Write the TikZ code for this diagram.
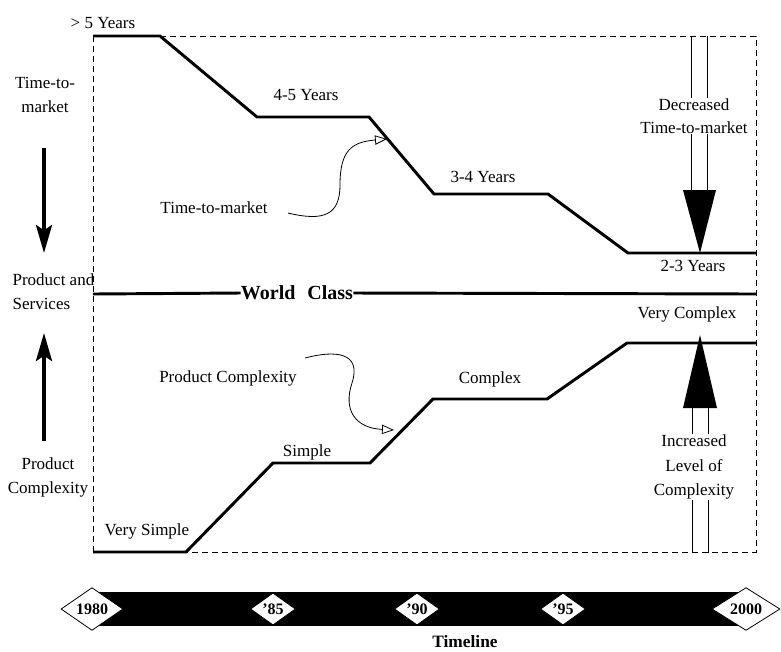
\documentclass[tikz,border=0pt]{standalone}
\usepackage{fontspec}
\setmainfont{Liberation Serif}
\usetikzlibrary{arrows.meta,shapes.geometric}

\begin{document}
\begin{tikzpicture}[x=0.75pt,y=-0.75pt,
  lbl/.style={font=\fontsize{12.75}{18}\selectfont, inner sep=1pt},
  stair/.style={line width=2.2pt, line join=miter},
  frame/.style={line width=0.7pt, dash pattern=on 4.5pt off 3pt},
  thinline/.style={line width=0.75pt},
  bigarrow/.style={line width=3pt, -{Stealth[length=21pt,width=12pt,inset=4pt]}},
  wavy/.style={line width=0.6pt, -{Triangle[open,length=9pt,width=7pt]}},
  yeartag/.style={shape=diamond, draw=black, line width=0.6pt, fill=white,
    inner sep=0pt, font=\bfseries\fontsize{12}{14}\selectfont},
  headtip/.style={fill=black}
]
\useasboundingbox (0,0) rectangle (781,651);

% dashed frame
\draw[frame] (160,36) -- (756,36) -- (756,552) -- (186,552);
\draw[frame] (93,36) -- (93,552);

% time-to-market staircase (descending)
\draw[stair] (93,36) -- (160,36) -- (257,117) -- (369,117) -- (434,194)
  -- (548,194) -- (628,253) -- (756,253);

% product complexity staircase (ascending)
\draw[stair] (93,552) -- (186,552) -- (273,463) -- (370,463) -- (433,399)
  -- (547,399) -- (627,343) -- (756,343);

% step labels
\node[lbl] (gt5)  at (103,23)  {> 5 Years};
\node[lbl] (y45)  at (306,95)  {4-5 Years};
\node[lbl] (y34)  at (483,177) {3-4 Years};
\node[lbl] (y23)  at (693,266) {2-3 Years};
\node[lbl] (vcx)  at (687,314) {Very Complex};
\node[lbl] (cx)   at (490,379) {Complex};
\node[lbl] (smp)  at (307,452) {Simple};
\node[lbl] (vsmp) at (147,531) {Very Simple};

% world class divider
\node[font=\bfseries\fontsize{15}{18}\selectfont, inner sep=0pt] (wc) at (297,293) {World\hspace{0.6em}Class};
\coordinate (wcl) at (93,294);
\coordinate (wcr) at (756,294);
\draw[line width=2.2pt] (wcl) -- (wc.west);
\draw[line width=2.2pt] (wc.east) -- (wcr);

% left-hand axis labels and arrows
\node[lbl, align=center] (ttmax) at (45,95) {Time-to-\\market};
\node[lbl, align=left, anchor=west] (ps) at (11,292) {Product and\\Services};
\node[lbl, align=center] (pcax) at (48,477) {Product\\Complexity};
\coordinate (dtop) at (44,148);
\coordinate (dbot) at (44,253);
\coordinate (ubot) at (44,441);
\coordinate (utop) at (44,333);
\draw[bigarrow] (dtop) -- (dbot);
\draw[bigarrow] (ubot) -- (utop);

% curved pointers
\node[lbl] (ttm) at (214,208) {Time-to-market};
\coordinate (ttmstart) at (288,213);
\coordinate (ttmtip) at (387,139);
\draw[wavy] (ttmstart) .. controls (325,222) and (340,214) .. (340,185)
  .. controls (340,150) and (352,142) .. (ttmtip);

\node[lbl] (pc) at (228,378) {Product Complexity};
\coordinate (pcstart) at (305,358);
\coordinate (pctip) at (394,430);
\draw[wavy] (pcstart) .. controls (335,350) and (362,352) .. (352,383)
  .. controls (343,410) and (355,428) .. (pctip);

% decreased time-to-market arrow
\coordinate (da1) at (691,36);
\coordinate (da2) at (707,36);
\coordinate (db1) at (691,190);
\coordinate (db2) at (707,190);
\draw[thinline] (da1) -- (db1);
\draw[thinline] (da2) -- (db2);
\fill[headtip] (683,190) -- (716,190) -- (700,253) -- cycle;
\node[lbl, align=center, fill=white, inner sep=0.5pt, font=\fontsize{12.75}{17.5}\selectfont] (dec) at (694,116) {Decreased\\Time-to-market};

% increased complexity arrow
\coordinate (ia1) at (692,553);
\coordinate (ia2) at (708,553);
\coordinate (ib1) at (692,408);
\coordinate (ib2) at (708,408);
\draw[thinline] (ia1) -- (ib1);
\draw[thinline] (ia2) -- (ib2);
\fill[headtip] (683,408) -- (717,408) -- (700,335) -- cycle;
\node[lbl, align=center, fill=white, inner sep=0.5pt, font=\fontsize{12.75}{18.5}\selectfont] (inc) at (694,467) {Increased\\Level of\\Complexity};

% timeline band
\fill[black] (93,592) rectangle (750,626);
\node[yeartag, minimum width=46.5pt, minimum height=24pt] (t80) at (92,609) {1980};
\node[yeartag, minimum width=33.75pt, minimum height=24pt] (t85) at (273,609) {'85};
\node[yeartag, minimum width=33.75pt, minimum height=24pt] (t90) at (417,609) {'90};
\node[yeartag, minimum width=33.75pt, minimum height=24pt] (t95) at (563,609) {'95};
\node[yeartag, minimum width=51pt, minimum height=24pt] (t00) at (746,609) {2000};
\node[font=\bfseries\fontsize{13}{15}\selectfont] (tl) at (465,642) {Timeline};

\end{tikzpicture}
\end{document}
